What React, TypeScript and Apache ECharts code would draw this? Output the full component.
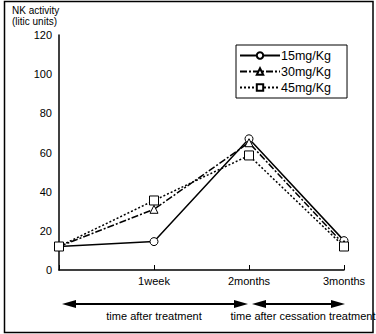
import React, { useEffect, useRef } from "react";
import * as echarts from "echarts";

const categories = ["", "1week", "2months", "3months"];
const s15 = [12, 14.5, 67, 15];
const s30 = [12, 31, 65, 13];
const s45 = [12, 35.5, 58.5, 12];
const seriesNames = ["15mg/Kg", "30mg/Kg", "45mg/Kg"];
const yTicks = { min: 0, max: 120, interval: 20 };

const FONT = "Liberation Sans";

export default function App() {
  const ref = useRef<HTMLDivElement>(null);
  useEffect(() => {
    document.body.style.margin = "0";
    const chart = echarts.init(ref.current!, null, { renderer: "svg" });
    const mk = (name: string, data: number[], type: any, symbol: string, size: number) => ({
      name,
      type: "line",
      data,
      symbol,
      symbolSize: size,
      showAllSymbol: true,
      lineStyle: { color: "#000", width: 1.5, type },
      itemStyle: { color: "#fff", borderColor: "#000", borderWidth: 1 },
      z: 3,
    });
    const arrowY = 304;
    const arrow = (x1: number, x2: number) => [
      { type: "line", shape: { x1: x1 + 12, y1: arrowY, x2: x2 - 12, y2: arrowY }, style: { stroke: "#000", lineWidth: 2 } },
      { type: "polygon", shape: { points: [[x1, arrowY], [x1 + 14, arrowY - 4], [x1 + 14, arrowY + 4]] }, style: { fill: "#000" } },
      { type: "polygon", shape: { points: [[x2, arrowY], [x2 - 14, arrowY - 4], [x2 - 14, arrowY + 4]] }, style: { fill: "#000" } },
    ];
    chart.setOption({
      animation: false,
      backgroundColor: "#fff",
      textStyle: { fontFamily: FONT },
      grid: { left: 59, top: 35, right: 32, bottom: 64 },
      legend: {
        orient: "vertical",
        left: 236,
        top: 45,
        itemWidth: 40,
        itemHeight: 8,
        itemGap: 3,
        padding: [4, 16, 4, 3],
        borderColor: "#000",
        borderWidth: 1,
        textStyle: { fontSize: 12.5, color: "#000", fontFamily: FONT, padding: [0, 0, 0, -4] },
        data: seriesNames,
      },
      xAxis: {
        type: "category",
        data: categories,
        boundaryGap: false,
        axisLine: { lineStyle: { color: "#000", width: 1.5 } },
        axisTick: { inside: true, length: 5, lineStyle: { color: "#000" }, alignWithLabel: true },
        axisLabel: { color: "#000", fontSize: 11, margin: 5, interval: 0, fontFamily: FONT },
        splitLine: { show: false },
      },
      yAxis: {
        type: "value",
        min: yTicks.min,
        max: yTicks.max,
        interval: yTicks.interval,
        axisLine: { show: true, lineStyle: { color: "#000", width: 1.5 } },
        axisTick: { show: false },
        axisLabel: { color: "#000", fontSize: 11, margin: 7, fontFamily: FONT },
        splitLine: { show: false },
      },
      series: [
        mk(seriesNames[0], s15, "solid", "circle", 8),
        mk(seriesNames[1], s30, [7, 2, 2, 2], "triangle", 8),
        mk(seriesNames[2], s45, [2, 2], "rect", 9),
      ],
      graphic: [
        { type: "rect", shape: { x: 4.5, y: 1.5, width: 368.5, height: 331 }, style: { fill: "none", stroke: "#000", lineWidth: 1.5 }, silent: true },
        { type: "text", x: 12, y: 5, style: { text: "NK activity", font: `10px ${FONT}`, fill: "#000" } },
        { type: "text", x: 12, y: 16, style: { text: "(litic units)", font: `10px ${FONT}`, fill: "#000" } },
        ...arrow(62, 248),
        ...arrow(252, 345),
        { type: "text", x: 154, y: 316, style: { text: "time after treatment", font: `11px ${FONT}`, fill: "#000", align: "center", verticalAlign: "middle" } },
        { type: "text", x: 303, y: 316, style: { text: "time after cessation treatment", font: `11px ${FONT}`, fill: "#000", align: "center", verticalAlign: "middle" } },
      ],
    });
    return () => chart.dispose();
  }, []);
  return <div ref={ref} style={{ width: 376, height: 334 }} />;
}
